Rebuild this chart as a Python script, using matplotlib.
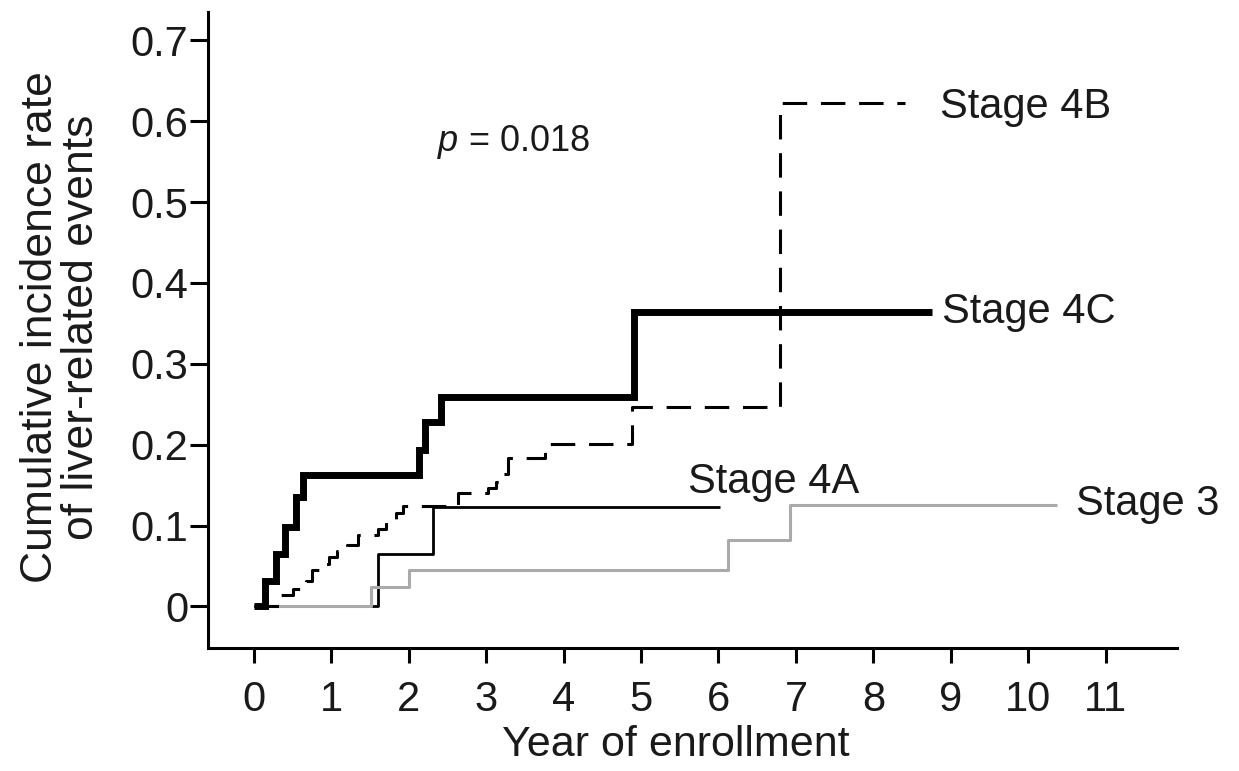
import numpy as np
import matplotlib
matplotlib.use("Agg")
import matplotlib.pyplot as plt

plt.rcParams["font.family"] = ["Liberation Sans", "DejaVu Sans"]
plt.rcParams["mathtext.fontset"] = "custom"
plt.rcParams["mathtext.it"] = "Liberation Sans:italic"
plt.rcParams["mathtext.rm"] = "Liberation Sans"

# step curves: event times (years) and cumulative incidence after each step
stage4c_t = [0, 0.14, 0.29, 0.40, 0.55, 0.63, 2.14, 2.21, 2.42, 4.91]
stage4c_v = [0, 0.032, 0.065, 0.098, 0.135, 0.162, 0.193, 0.228, 0.259, 0.364]
stage4c_end = 8.76

stage4b_t = [0, 0.34, 0.51, 0.68, 0.75, 0.86, 0.97, 1.08, 1.21, 1.35, 1.60, 1.71,
             1.84, 1.93, 2.64, 3.03, 3.13, 3.18, 3.28, 3.76, 4.88, 6.80]
stage4b_v = [0, 0.014, 0.021, 0.032, 0.045, 0.053, 0.061, 0.068, 0.076, 0.088, 0.096,
             0.106, 0.115, 0.124, 0.140, 0.147, 0.154, 0.164, 0.184, 0.201, 0.246, 0.622]
stage4b_end = 8.41

stage4a_t = [0, 1.60, 2.31]
stage4a_v = [0, 0.065, 0.123]
stage4a_end = 6.02

stage3_t = [0, 1.51, 2.01, 6.12, 6.92]
stage3_v = [0, 0.024, 0.045, 0.082, 0.125]
stage3_end = 10.37

x_ticks = list(range(0, 12))
y_ticks = [0, 0.1, 0.2, 0.3, 0.4, 0.5, 0.6, 0.7]
y_ticklabels = ["0", "0.1", "0.2", "0.3", "0.4", "0.5", "0.6", "0.7"]

fig = plt.figure(figsize=(12.39, 7.71), dpi=100)
ax = fig.add_axes([0.1679, 0.160, 0.950 - 0.1679, 0.9844 - 0.160])


def step_line(t, v, end, **kw):
    xs = list(t) + [end]
    ys = list(v) + [v[-1]]
    return ax.plot(xs, ys, drawstyle="steps-post", **kw)[0]


step_line(stage4a_t, stage4a_v, stage4a_end, color="black", lw=2.0, solid_capstyle="butt")
step_line(stage3_t, stage3_v, stage3_end, color="#aaaaaa", lw=2.2, solid_capstyle="butt")
ln = step_line(stage4b_t, stage4b_v, stage4b_end, color="black", lw=2.2)
ln.set_dashes((8, 4.5))
step_line(stage4c_t, stage4c_v, stage4c_end, color="black", lw=5.0,
          solid_capstyle="butt", solid_joinstyle="miter")

ax.set_xlim(-0.59, 11.92)
ax.set_ylim(-0.051, 0.735)

for s in ["top", "right"]:
    ax.spines[s].set_visible(False)
for s in ["left", "bottom"]:
    ax.spines[s].set_linewidth(2.2)

ax.set_xticks(x_ticks)
ax.set_yticks(y_ticks)
ax.set_yticklabels(y_ticklabels)
ax.tick_params(axis="both", labelsize=30, width=2.2, labelcolor="#1a1a1a")
ax.tick_params(axis="y", length=13, pad=1)
ax.tick_params(axis="x", length=11, pad=12)

ax.set_xlabel("Year of enrollment", fontsize=31, color="#1a1a1a")
ax.xaxis.set_label_coords(0.4825, -0.153)
ax.xaxis.label.set_va("center")

fig.text(0.0492, 0.5752, "Cumulative incidence rate\nof liver-related events",
         rotation=90, ha="center", va="center", fontsize=32, linespacing=1.0,
         color="#1a1a1a")

ax.text(8.86, 0.604, "Stage 4B", fontsize=30, va="baseline", color="#1a1a1a")
ax.text(8.88, 0.350, "Stage 4C", fontsize=30, va="baseline", color="#1a1a1a")
ax.text(5.61, 0.140, "Stage 4A", fontsize=30, va="baseline", color="#1a1a1a")
ax.text(10.61, 0.113, "Stage 3", fontsize=30, va="baseline", color="#1a1a1a")
ax.text(2.36, 0.563, r"$p$ = 0.018", fontsize=26, va="baseline", color="#1a1a1a")

fig.savefig("out.png", dpi=100)
